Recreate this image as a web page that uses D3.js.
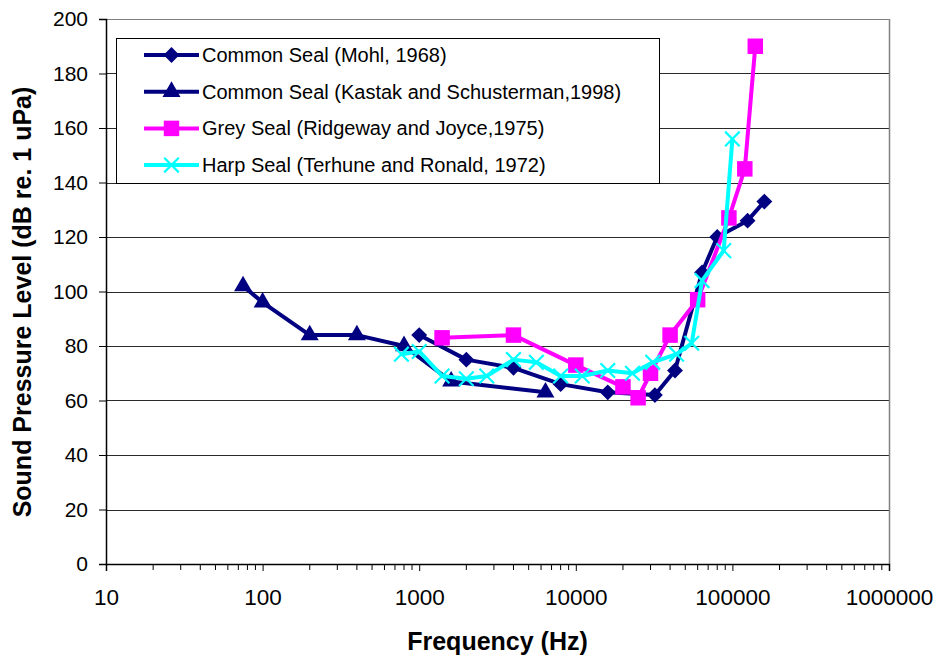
<!DOCTYPE html>
<html>
<head>
<meta charset="utf-8">
<title>Seal hearing thresholds</title>
<script src="https://d3js.org/d3.v7.min.js"></script>
<style>
  body { margin: 0; background: #ffffff; }
  svg { font-family: "Liberation Sans", Arial, sans-serif; }
  .grid line { stroke: #2a2a2a; stroke-width: 1; shape-rendering: crispEdges; }
  .tick-label { font-size: 21px; fill: #000; }
  .x-label { font-size: 22.5px; }
  .axis-title { font-size: 25px; font-weight: bold; fill: #000; }
  .legend text { font-size: 20px; fill: #000; }
</style>
</head>
<body>
<div id="chart"></div>
<script>

// series data
var mohlFreq = [1000, 2000, 4000, 8000, 16000, 32000, 43000, 64000, 80000, 125000, 160000]
var mohlLevel = [84, 75, 72, 66, 63, 62, 71, 107, 120, 126, 133]

var kastakFreq = [75, 100, 200, 400, 800, 1600, 6400]
var kastakLevel = [102, 96, 84, 84, 80, 67, 63]

var greyFreq = [1400, 4000, 10000, 20000, 25000, 30000, 40000, 60000, 95000, 120000, 140000]
var greyLevel = [83, 84, 73, 65, 61, 70, 84, 97, 127, 145, 190]

var harpFreq = [770, 1000, 1400, 2000, 2700, 4000, 5600, 8000, 11000, 16000, 23000, 31000, 44000, 55000, 64000, 88000, 100000]
var harpLevel = [77, 78, 69, 68, 69, 75, 74, 69, 69, 71, 70, 74, 77, 81, 104, 115, 156]

var seriesNames = [
  "Common Seal (Mohl, 1968)",
  "Common Seal (Kastak and Schusterman,1998)",
  "Grey Seal (Ridgeway and Joyce,1975)",
  "Harp Seal (Terhune and Ronald, 1972)"
]

var xTicks = [10, 100, 1000, 10000, 100000, 1000000]
var yTicks = [0, 20, 40, 60, 80, 100, 120, 140, 160, 180, 200]

var width = 939,
    height = 659

var plot = { left: 106, right: 889, top: 19, bottom: 564 }

var svg = d3.select("#chart").append("svg")
  .attr("width", width)
  .attr("height", height)

var x = d3.scaleLog().domain([10, 1000000]).range([plot.left, plot.right])
var y = d3.scaleLinear().domain([0, 200]).range([plot.bottom, plot.top])

// horizontal gridlines
svg.append("g").attr("class", "grid")
  .selectAll("line")
  .data(yTicks.slice(1))
  .enter().append("line")
  .attr("x1", plot.left).attr("x2", plot.right)
  .attr("y1", function (d) { return Math.round(y(d)) + 0.5 })
  .attr("y2", function (d) { return Math.round(y(d)) + 0.5 })
  .style("stroke", function (d) { return d === 200 ? "#808080" : null })

// right border of plot area
svg.append("line")
  .attr("x1", Math.round(plot.right) + 0.5).attr("x2", Math.round(plot.right) + 0.5)
  .attr("y1", plot.top).attr("y2", plot.bottom)
  .style("stroke", "#808080").style("stroke-width", 1.5)

// y axis
var yAxis = svg.append("g")
  .attr("transform", "translate(" + plot.left + ",0)")
  .call(d3.axisLeft(y).tickValues(yTicks).tickSize(7).tickPadding(11))
yAxis.select(".domain").attr("stroke", "#000").attr("stroke-width", 1.5)
yAxis.selectAll(".tick line").attr("stroke", "#000")
yAxis.selectAll("text").attr("class", "tick-label").attr("font-family", null).attr("font-size", null)

// x axis, log with minor ticks
var minor = []
for (var dec = 10; dec < 1000000; dec *= 10) {
  for (var k = 2; k <= 9; k++) minor.push(dec * k)
}
var xAxis = svg.append("g")
  .attr("transform", "translate(0," + plot.bottom + ")")
  .call(d3.axisBottom(x).tickValues(xTicks).tickFormat(d3.format("d")).tickSize(7).tickPadding(18))
xAxis.select(".domain").attr("stroke", "#000").attr("stroke-width", 1.5)
xAxis.selectAll(".tick line").attr("stroke", "#000")
xAxis.selectAll("text").attr("class", "tick-label x-label").attr("font-family", null).attr("font-size", null)
xAxis.selectAll(".minor")
  .data(minor)
  .enter().append("line")
  .attr("class", "minor")
  .attr("x1", function (d) { return x(d) }).attr("x2", function (d) { return x(d) })
  .attr("y1", 0).attr("y2", 6)
  .attr("stroke", "#000")

// axis titles
svg.append("text")
  .attr("class", "axis-title")
  .attr("x", (plot.left + plot.right) / 2)
  .attr("y", 650)
  .attr("text-anchor", "middle")
  .text("Frequency (Hz)")

svg.append("text")
  .attr("class", "axis-title")
  .attr("transform", "translate(31," + 302 + ") rotate(-90)")
  .attr("text-anchor", "middle")
  .text("Sound Pressure Level (dB re. 1 uPa)")

// marker shapes
var diamond = d3.symbol().type(d3.symbolDiamond2).size(160)
var triangle = d3.symbol().type(d3.symbolTriangle).size(140)
var square = d3.symbol().type(d3.symbolSquare).size(240)
var cross = d3.symbol().type(d3.symbolTimes).size(140)

var series = [
  { name: seriesNames[0], freq: mohlFreq, level: mohlLevel, color: "#000080", sym: diamond, stroke: false },
  { name: seriesNames[1], freq: kastakFreq, level: kastakLevel, color: "#000080", sym: triangle, stroke: false },
  { name: seriesNames[2], freq: greyFreq, level: greyLevel, color: "#ff00ff", sym: square, stroke: false },
  { name: seriesNames[3], freq: harpFreq, level: harpLevel, color: "#00ffff", sym: cross, stroke: true }
]

var line = d3.line()
  .x(function (d) { return x(d[0]) })
  .y(function (d) { return y(d[1]) })

function drawMarker(sel, s) {
  if (s.stroke) {
    sel.attr("d", s.sym).attr("fill", "none").attr("stroke", s.color).attr("stroke-width", 2.2)
  } else {
    sel.attr("d", s.sym).attr("fill", s.color)
  }
}

series.forEach(function (s) {
  var pts = s.freq.map(function (f, i) { return [f, s.level[i]] })
  var g = svg.append("g")
  g.append("path")
    .datum(pts)
    .attr("d", line)
    .attr("fill", "none")
    .attr("stroke", s.color)
    .attr("stroke-width", 4)
    .attr("stroke-linejoin", "round")
  g.selectAll("path.mark")
    .data(pts)
    .enter().append("path")
    .attr("class", "mark")
    .attr("transform", function (d) { return "translate(" + x(d[0]) + "," + y(d[1]) + ")" })
    .call(drawMarker, s)
})

// legend
var legend = svg.append("g").attr("class", "legend")
legend.append("rect")
  .attr("x", 116.5).attr("y", 38.5)
  .attr("width", 543).attr("height", 145)
  .attr("fill", "#ffffff")
  .attr("stroke", "#000").attr("stroke-width", 1)

var rows = legend.selectAll("g.row")
  .data(series)
  .enter().append("g")
  .attr("class", "row")
  .attr("transform", function (d, i) { return "translate(0," + (55 + i * 36.7) + ")" })

rows.append("line")
  .attr("x1", 144).attr("x2", 199)
  .attr("stroke", function (d) { return d.color })
  .attr("stroke-width", 4)

rows.append("path")
  .attr("transform", "translate(171.5,0)")
  .each(function (d) { d3.select(this).call(drawMarker, d) })

rows.append("text")
  .attr("x", 202)
  .attr("dy", "0.35em")
  .text(function (d) { return d.name })

</script>
</body>
</html>
